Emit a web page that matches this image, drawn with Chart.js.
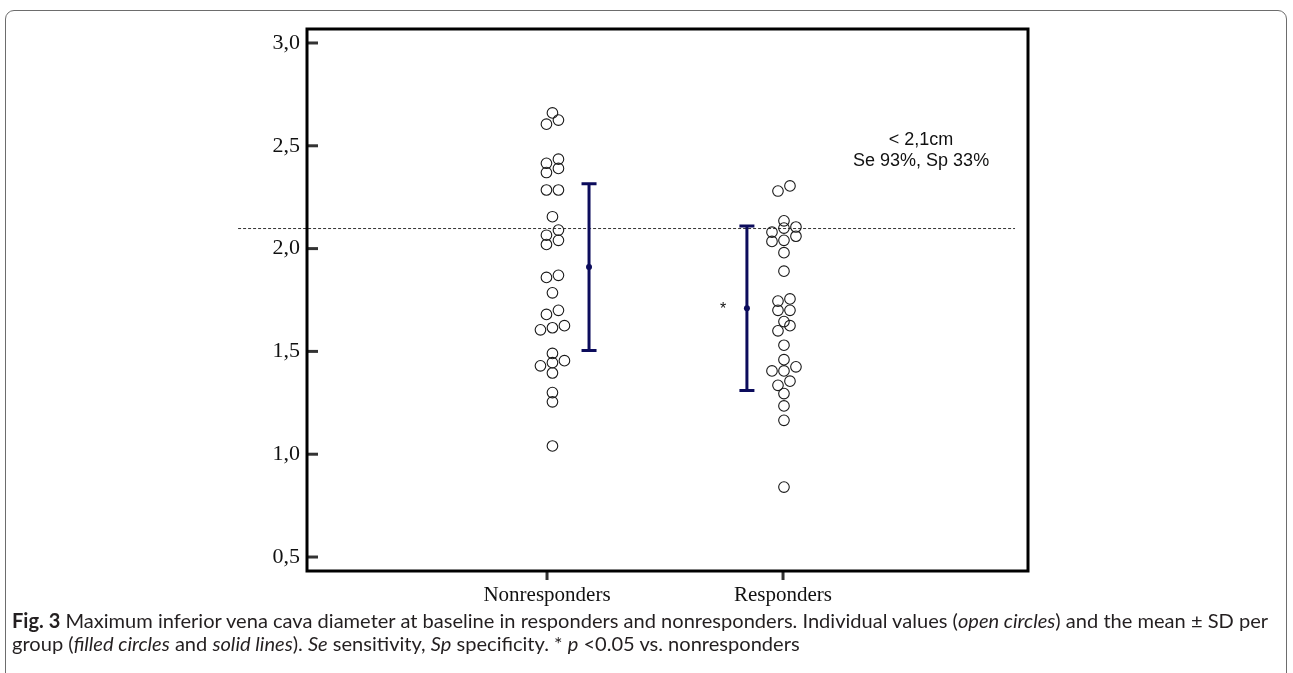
<!DOCTYPE html>
<html>
<head>
<meta charset="utf-8">
<script src="https://cdn.jsdelivr.net/npm/chart.js@4.4.0/dist/chart.umd.min.js"></script>
<style>
html,body{margin:0;padding:0;background:#fff;width:1293px;height:673px;overflow:hidden;}
#frame{position:absolute;left:5px;top:10px;width:1282px;height:700px;border:1px solid #6d6d6d;border-radius:9px;box-sizing:border-box;}
#c{position:absolute;left:0;top:0;}
#caption{position:absolute;left:12px;top:609px;font-family:Lato,"Noto Sans",sans-serif;font-size:20px;line-height:23px;color:#231f20;white-space:nowrap;}
#caption b{font-weight:700;}
</style>
</head>
<body>
<div id="frame"></div>
<canvas id="c" width="1293" height="673"></canvas>
<div id="caption"><span id="l1"><b>Fig. 3</b> Maximum inferior vena cava diameter at baseline in responders and nonresponders. Individual values (<i>open circles</i>) and the mean ± SD per</span><br><span id="l2">group (<i>filled circles</i> and <i>solid lines</i>). <i>Se</i> sensitivity, <i>Sp</i> specificity. * <i>p</i> &lt;0.05 vs. nonresponders</span></div>
<script>
// ---- data ----
const CATEGORIES = ['Nonresponders', 'Responders'];
const NONRESPONDERS = [1.04, 1.255, 1.30, 1.395, 1.43, 1.445, 1.455, 1.49, 1.605, 1.615, 1.625, 1.68, 1.70, 1.785, 1.86, 1.87, 2.02, 2.04, 2.065, 2.09, 2.155, 2.285, 2.285, 2.37, 2.39, 2.415, 2.435, 2.605, 2.625, 2.66];
const RESPONDERS = [0.84, 1.165, 1.235, 1.295, 1.335, 1.355, 1.405, 1.405, 1.425, 1.46, 1.53, 1.60, 1.625, 1.645, 1.70, 1.70, 1.745, 1.755, 1.89, 1.98, 2.035, 2.04, 2.06, 2.08, 2.10, 2.105, 2.135, 2.28, 2.305];
const MEANS = [1.91, 1.71];
const SDS = [0.405, 0.40];
const SIGNIFICANCE = ['', '*'];
const Y_TICKS = [0.5, 1.0, 1.5, 2.0, 2.5, 3.0];
const Y_TICK_LABELS = ['0,5', '1,0', '1,5', '2,0', '2,5', '3,0'];
const CUTOFF = 2.1;
const CUTOFF_TEXT = ['< 2,1cm', 'Se 93%, Sp 33%'];

// ---- layout constants ----
const X_MIN = -0.017, X_MAX = 3.038, Y_MIN = 0.432, Y_MAX = 3.068;
const DOT_OFFSET = [0.023, 0.004];
const ERR_OFFSET = [0.178, -0.153];
const DOT_SPACING = 0.0508;
const BIN_WIDTH = 0.031;
const NAVY = '#0c0c5c';
const SERIF = '"Liberation Serif","Times New Roman",serif';
const SANS = '"Liberation Sans",Arial,sans-serif';

function swarm(values, center) {
  const sorted = values.slice().sort((a, b) => a - b);
  const bins = []; let cur = null;
  for (const v of sorted) {
    if (cur && v - cur[0] < BIN_WIDTH) cur.push(v); else { cur = [v]; bins.push(cur); }
  }
  const pts = [];
  for (const b of bins) {
    const n = b.length;
    b.forEach((v, i) => pts.push({x: center + (i - (n - 1) / 2) * DOT_SPACING, y: v}));
  }
  return pts;
}

const groups = [NONRESPONDERS, RESPONDERS];
const scatterSets = groups.map((vals, i) => ({
  type: 'scatter',
  data: swarm(vals, i + 1 + DOT_OFFSET[i]),
  pointStyle: 'circle',
  pointRadius: 5.3,
  pointBorderWidth: 1.1,
  pointBorderColor: '#1a1a1a',
  pointBackgroundColor: 'rgba(255,255,255,0)',
  showLine: false
}));
const meanSet = {
  type: 'scatter',
  data: MEANS.map((m, i) => ({x: i + 1 + ERR_OFFSET[i], y: m})),
  pointRadius: 3,
  pointBorderWidth: 0,
  pointBackgroundColor: NAVY,
  showLine: false
};

const decor = {
  id: 'decor',
  beforeDatasetsDraw(chart) {
    const {ctx, scales: {x, y}} = chart;
    ctx.save();
    // cutoff dashed line
    const yc = y.getPixelForValue(CUTOFF);
    ctx.strokeStyle = '#333'; ctx.lineWidth = 1; ctx.setLineDash([3, 2]);
    ctx.beginPath(); ctx.moveTo(x.getPixelForValue(-0.309), yc + 0.5); ctx.lineTo(x.getPixelForValue(2.983), yc + 0.5); ctx.stroke();
    ctx.setLineDash([]);
    // error bars
    ctx.strokeStyle = NAVY; ctx.lineWidth = 3;
    MEANS.forEach((m, i) => {
      const xp = x.getPixelForValue(i + 1 + ERR_OFFSET[i]);
      const yt = y.getPixelForValue(m + SDS[i]);
      const yb = y.getPixelForValue(m - SDS[i]);
      ctx.beginPath(); ctx.moveTo(xp, yt); ctx.lineTo(xp, yb); ctx.stroke();
      ctx.beginPath(); ctx.moveTo(xp - 7.5, yt); ctx.lineTo(xp + 7.5, yt); ctx.moveTo(xp - 7.5, yb); ctx.lineTo(xp + 7.5, yb); ctx.stroke();
      if (SIGNIFICANCE[i]) {
        ctx.fillStyle = '#111'; ctx.font = '16px ' + SANS; ctx.textAlign = 'center'; ctx.textBaseline = 'alphabetic';
        ctx.fillText(SIGNIFICANCE[i], x.getPixelForValue(i + 1 - 0.254), y.getPixelForValue(m - 0.03));
      }
    });
    // annotation
    ctx.fillStyle = '#111'; ctx.font = '18px ' + SANS; ctx.textAlign = 'center'; ctx.textBaseline = 'middle';
    ctx.fillText(CUTOFF_TEXT[0], x.getPixelForValue(2.585), y.getPixelForValue(2.528));
    ctx.fillText(CUTOFF_TEXT[1], x.getPixelForValue(2.585), y.getPixelForValue(2.428));
    ctx.restore();
  },
  afterDraw(chart) {
    const {ctx, chartArea: a, scales: {x, y}} = chart;
    ctx.save();
    // ticks
    ctx.strokeStyle = '#333'; ctx.lineWidth = 3;
    Y_TICKS.forEach(v => {
      const yp = y.getPixelForValue(v);
      ctx.beginPath(); ctx.moveTo(a.left, yp); ctx.lineTo(a.left + 11, yp); ctx.stroke();
    });
    CATEGORIES.forEach((c, i) => {
      const xp = x.getPixelForValue(i + 1);
      ctx.beginPath(); ctx.moveTo(xp, a.bottom); ctx.lineTo(xp, a.bottom + 9); ctx.stroke();
    });
    // frame
    ctx.strokeStyle = '#000'; ctx.lineWidth = 3;
    ctx.strokeRect(a.left, a.top, a.right - a.left, a.bottom - a.top);
    ctx.restore();
  }
};

new Chart(document.getElementById('c'), {
  type: 'scatter',
  data: {datasets: [...scatterSets, meanSet]},
  options: {
    responsive: false,
    animation: false,
    devicePixelRatio: 1,
    layout: {padding: {left: 0, top: 29, right: 265, bottom: 0}},
    plugins: {legend: {display: false}, tooltip: {enabled: false}},
    scales: {
      x: {
        type: 'linear', min: X_MIN, max: X_MAX,
        afterBuildTicks: s => { s.ticks = CATEGORIES.map((c, i) => ({value: i + 1})); },
        afterFit: s => { s.height = 102; },
        grid: {display: false, drawTicks: false},
        border: {display: false},
        ticks: {
          callback: v => CATEGORIES[Math.round(v) - 1],
          font: {family: SERIF, size: 21}, color: '#111', padding: 12,
          maxRotation: 0, autoSkip: false
        }
      },
      y: {
        type: 'linear', min: Y_MIN, max: Y_MAX,
        afterBuildTicks: s => { s.ticks = Y_TICKS.map(v => ({value: v})); },
        afterFit: s => { s.width = 307; },
        grid: {display: false, drawTicks: false},
        border: {display: false},
        ticks: {
          callback: v => Y_TICK_LABELS[Y_TICKS.findIndex(t => Math.abs(t - v) < 1e-6)],
          font: {family: SERIF, size: 22}, color: '#111', padding: 7, autoSkip: false
        }
      }
    }
  },
  plugins: [decor]
});

// fit caption line 1 to the reference width (1256px)
function fitCaption() {
  const l1 = document.getElementById('l1');
  const cap = document.getElementById('caption');
  const cur = parseFloat(getComputedStyle(cap).fontSize);
  const w = l1.getBoundingClientRect().width;
  if (w > 0) cap.style.fontSize = (cur * 1256 / w).toFixed(2) + 'px';
}
const fontLoads = document.fonts ? Promise.all([
  document.fonts.load('20px Lato'), document.fonts.load('bold 20px Lato'), document.fonts.load('italic 20px Lato')
]) : Promise.resolve();
fontLoads.then(() => { fitCaption(); fitCaption(); }).catch(fitCaption);
</script>
</body>
</html>
